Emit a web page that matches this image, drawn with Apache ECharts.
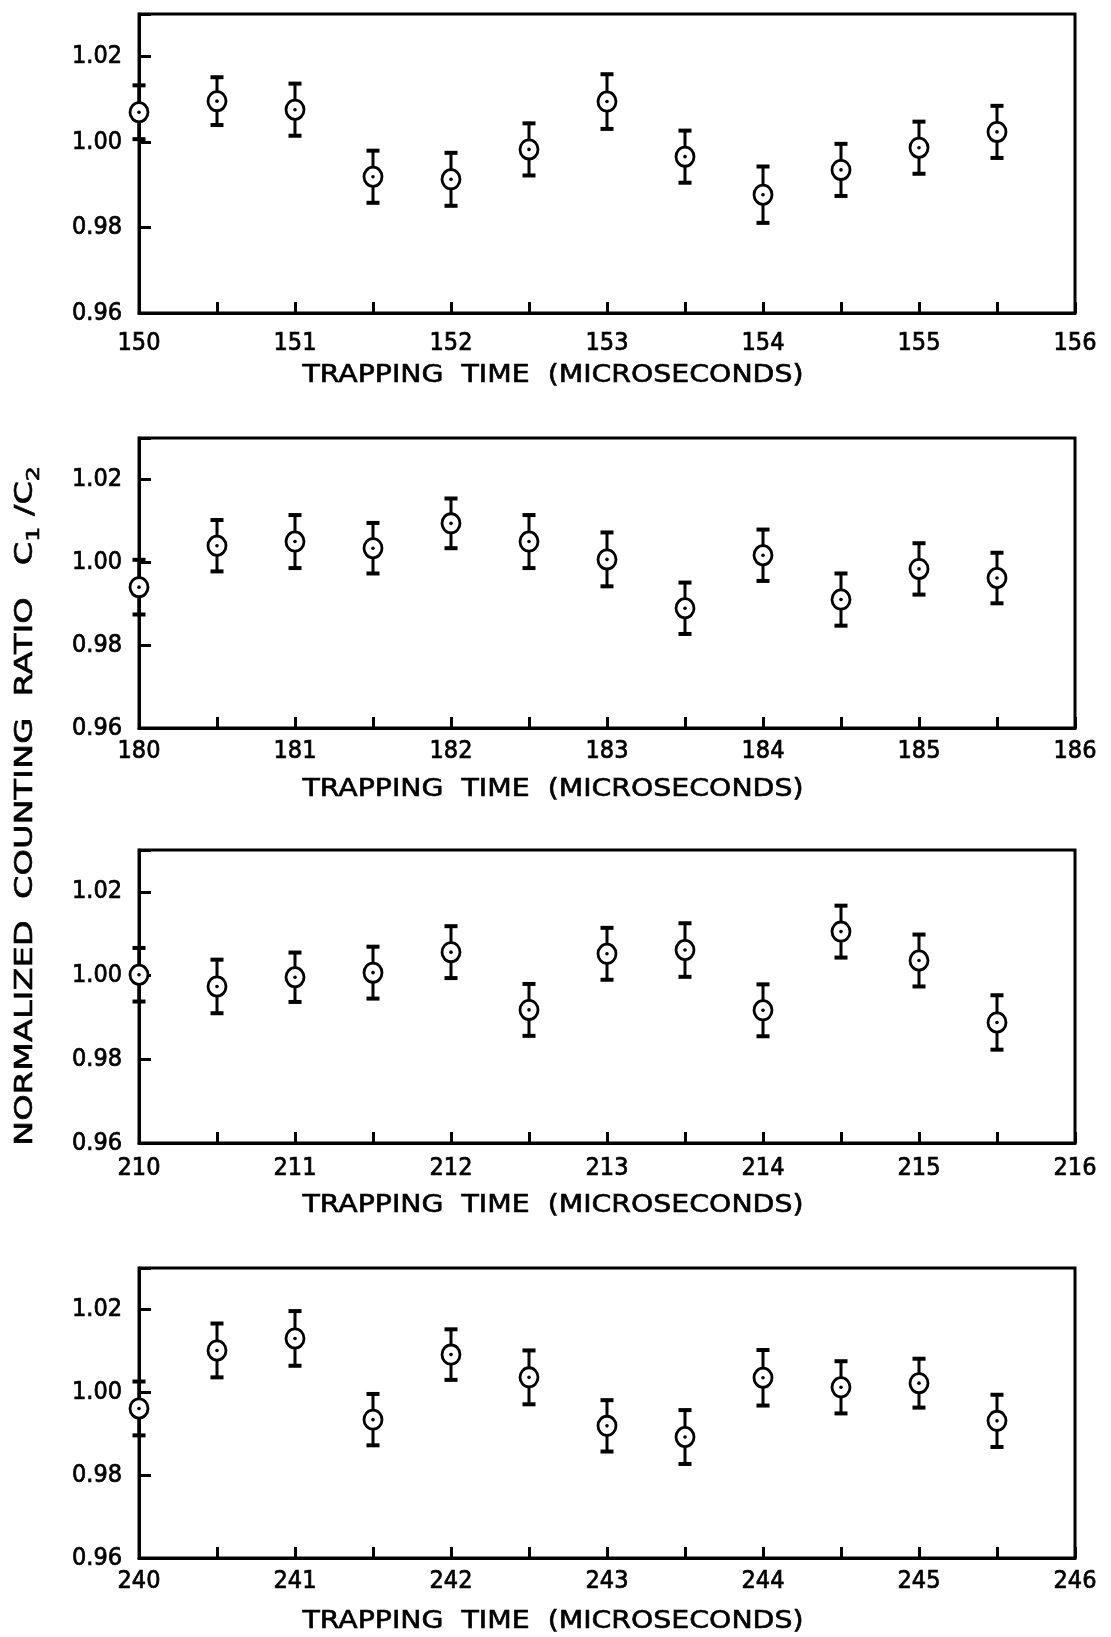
<!DOCTYPE html>
<html><head><meta charset="utf-8">
<script src="https://cdn.jsdelivr.net/npm/echarts@6/dist/echarts.min.js"></script>
<style>html,body{margin:0;padding:0;background:#fff}#c{width:1111px;height:1637px}</style>
</head><body><div id="c"></div>
<script>
// ---- data ----
const times1 = [150, 150.5, 151, 151.5, 152, 152.5, 153, 153.5, 154, 154.5, 155, 155.5];
const ratio1 = [1.0070, 1.0096, 1.0076, 0.9919, 0.9913, 0.9983, 1.0095, 0.9966, 0.9877, 0.9935, 0.9987, 1.0024];
const err1   = [0.0063, 0.0056, 0.0061, 0.0061, 0.0062, 0.0061, 0.0064, 0.0061, 0.0066, 0.0061, 0.0061, 0.0061];

const times2 = [180, 180.5, 181, 181.5, 182, 182.5, 183, 183.5, 184, 184.5, 185, 185.5];
const ratio2 = [0.9940, 1.0040, 1.0050, 1.0034, 1.0094, 1.0050, 1.0007, 0.9889, 1.0017, 0.9910, 0.9984, 0.9962];
const err2   = [0.0066, 0.0062, 0.0064, 0.0061, 0.0060, 0.0064, 0.0065, 0.0062, 0.0062, 0.0063, 0.0062, 0.0061];

const times3 = [210, 210.5, 211, 211.5, 212, 212.5, 213, 213.5, 214, 214.5, 215, 215.5];
const ratio3 = [1.0002, 0.9974, 0.9996, 1.0007, 1.0056, 0.9918, 1.0052, 1.0061, 0.9917, 1.0105, 1.0036, 0.9888];
const err3   = [0.0064, 0.0064, 0.0059, 0.0062, 0.0062, 0.0062, 0.0062, 0.0064, 0.0062, 0.0062, 0.0062, 0.0065];

const times4 = [240, 240.5, 241, 241.5, 242, 242.5, 243, 243.5, 244, 244.5, 245, 245.5];
const ratio4 = [0.9961, 1.0101, 1.0130, 0.9934, 1.0091, 1.0036, 0.9919, 0.9892, 1.0035, 1.0012, 1.0022, 0.9931];
const err4   = [0.0065, 0.0065, 0.0066, 0.0062, 0.0061, 0.0065, 0.0062, 0.0065, 0.0067, 0.0063, 0.0059, 0.0063];

const xRanges = [[150, 156], [180, 186], [210, 216], [240, 246]];
const yTickLabels = ['0.96', '0.98', '1.00', '1.02'];
const xAxisTitle = 'TRAPPING  TIME  (MICROSECONDS)';
const yAxisTitleParts = ['NORMALIZED  COUNTING  RATIO   C', '1', ' /C', '2'];

// ---- layout ----
const panels = [
  {top: 14, height: 299, labelMargin: 18, nameY: 376},
  {top: 438, height: 290, labelMargin: 11, nameY: 790},
  {top: 850, height: 293, labelMargin: 13, nameY: 1206},
  {top: 1268, height: 290, labelMargin: 11, nameY: 1622}
];
const seriesData = [[times1, ratio1, err1], [times2, ratio2, err2], [times3, ratio3, err3], [times4, ratio4, err4]];
const FONT = '"DejaVu Sans", sans-serif';
const NUMFONT = '"DejaVu Sans Condensed", "Liberation Sans", sans-serif';
const INK = '#000';

const chart = echarts.init(document.getElementById('c'), null, {renderer: 'canvas'});

function renderErr(params, api) {
  const x = api.value(0), y = api.value(1), e = api.value(2);
  const c = api.coord([x, y]);
  const hi = api.coord([x, y + e]);
  const lo = api.coord([x, y - e]);
  const cw = 6.5;
  return {
    type: 'group',
    children: [
      {type: 'line', shape: {x1: c[0], y1: hi[1], x2: c[0], y2: lo[1]}, style: {stroke: INK, lineWidth: 3}},
      {type: 'line', shape: {x1: c[0] - cw, y1: hi[1], x2: c[0] + cw, y2: hi[1]}, style: {stroke: INK, lineWidth: 4}},
      {type: 'line', shape: {x1: c[0] - cw, y1: lo[1], x2: c[0] + cw, y2: lo[1]}, style: {stroke: INK, lineWidth: 4}},
      {type: 'ellipse', shape: {cx: c[0], cy: c[1], rx: 9, ry: 9.6}, style: {fill: '#fff', stroke: INK, lineWidth: 2.8}},
      {type: 'circle', shape: {cx: c[0], cy: c[1], r: 1.8}, style: {fill: INK}}
    ]
  };
}

const grid = [], xAxis = [], yAxis = [], series = [], graphic = [];
panels.forEach((p, i) => {
  grid.push({left: 139, width: 936, top: p.top, height: p.height, show: true, borderColor: INK, borderWidth: 3, backgroundColor: 'transparent'});
  xAxis.push({
    type: 'value', gridIndex: i, min: xRanges[i][0], max: xRanges[i][1], interval: 0.5,
    axisLine: {show: true, lineStyle: {color: INK, width: 3}},
    axisTick: {show: true, inside: true, length: 11, lineStyle: {color: INK, width: 3}},
    splitLine: {show: false},
    axisLabel: {
      show: true, margin: p.labelMargin, color: INK, fontSize: 25, fontFamily: NUMFONT,
      textBorderColor: INK, textBorderWidth: 0.7,
      showMinLabel: true, showMaxLabel: true,
      formatter: v => (Number.isInteger(v) ? String(v) : '')
    }
  });
  yAxis.push({
    type: 'value', gridIndex: i, min: 0.96, max: 1.03, interval: 0.02,
    axisLine: {show: true, lineStyle: {color: INK, width: 3}},
    axisTick: {show: true, inside: true, length: 12, lineStyle: {color: INK, width: 3}},
    splitLine: {show: false},
    axisLabel: {
      show: true, margin: 17, color: INK, fontSize: 25, fontFamily: NUMFONT,
      textBorderColor: INK, textBorderWidth: 0.7,
      showMinLabel: true, showMaxLabel: true,
      formatter: v => { const s = v.toFixed(2); return yTickLabels.indexOf(s) >= 0 ? s : ''; }
    }
  });
  const d = seriesData[i];
  series.push({
    type: 'custom', xAxisIndex: i, yAxisIndex: i, clip: false,
    renderItem: renderErr,
    encode: {x: 0, y: 1},
    data: d[0].map((t, k) => [t, d[1][k], d[2][k]]),
    silent: true, animation: false
  });
});

// text measurement to stretch lettering like the original's wide stencil lettering
const mctx = document.createElement('canvas').getContext('2d');
function tw(txt, size) { mctx.font = size + 'px ' + FONT; return mctx.measureText(txt).width; }

const xNameScale = 501 / tw(xAxisTitle, 24);
panels.forEach(p => {
  graphic.push({
    type: 'text', x: 553, y: p.nameY, scaleX: xNameScale, silent: true,
    style: {text: xAxisTitle, font: '24px ' + FONT, fill: INK, stroke: INK, lineWidth: 0.6,
      align: 'center', verticalAlign: 'middle', textAlign: 'center', textVerticalAlign: 'middle'}
  });
});

const yw = tw(yAxisTitleParts[0], 24) + tw(yAxisTitleParts[1], 17) + tw(yAxisTitleParts[2], 24) + tw(yAxisTitleParts[3], 17);
const yNameScale = 680 / yw;
graphic.push({
  type: 'text', x: 26, y: 806, rotation: Math.PI / 2, scaleX: yNameScale, silent: true,
  style: {
    text: yAxisTitleParts[0] + '{s|' + yAxisTitleParts[1] + '}' + yAxisTitleParts[2] + '{s|' + yAxisTitleParts[3] + '}',
    font: '24px ' + FONT, fill: INK, stroke: INK, lineWidth: 0.6,
    align: 'center', verticalAlign: 'middle', textAlign: 'center', textVerticalAlign: 'middle',
    rich: {s: {fontSize: 17, fontFamily: FONT, fill: INK, stroke: INK, lineWidth: 0.6, verticalAlign: 'bottom', lineHeight: 34}}
  }
});

chart.setOption({
  backgroundColor: '#fff',
  animation: false,
  grid, xAxis, yAxis, series, graphic
});
</script>
</body></html>
